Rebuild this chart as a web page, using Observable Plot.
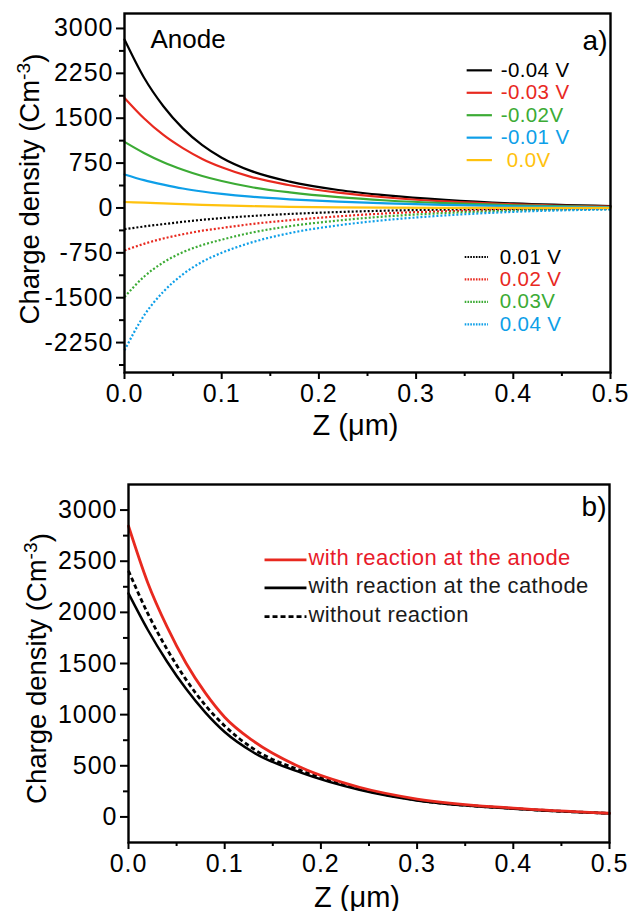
<!DOCTYPE html>
<html>
<head>
<meta charset="utf-8">
<script src="https://cdn.jsdelivr.net/npm/d3@7"></script>
<script src="https://cdn.jsdelivr.net/npm/@observablehq/plot@0.6"></script>
<style>
  html, body { margin: 0; padding: 0; background: #fff; }
  #chart { width: 637px; }
  #chart svg { display: block; }
</style>
</head>
<body>
<div id="chart"></div>
<script>
// ---------- Panel a) data ----------
const zA = [0, 0.02, 0.04, 0.06, 0.08, 0.10, 0.13, 0.17, 0.22, 0.27, 0.33, 0.40, 0.50];
const labelsSolid = ["-0.04 V", "-0.03 V", "-0.02V", "-0.01 V", "\u00a00.0V"];
const colorsSolid = ["#000000", "#e8291f", "#3cab35", "#0e9fe8", "#ffc20e"];
const vM004 = [2815, 2180, 1700, 1330, 1050, 840, 620, 440, 300, 210, 135, 75, 30];
const vM003 = [1840, 1500, 1220, 1000, 820, 680, 520, 380, 255, 175, 110, 62, 24];
const vM002 = [1105, 920, 765, 640, 535, 450, 350, 260, 180, 125, 80, 45, 14];
const vM001 = [560, 465, 390, 325, 275, 235, 188, 145, 105, 75, 50, 28, 8];
const vP000 = [100, 88, 76, 64, 52, 42, 30, 19, 10, 5, 2, 1, 0];
const labelsDotted = ["0.01 V", "0.02 V", "0.03V", "0.04 V"];
const colorsDotted = ["#000000", "#e8291f", "#3cab35", "#0e9fe8"];
const vP001 = [-355, -310, -270, -232, -198, -170, -135, -100, -68, -45, -27, -15, -5];
const vP002 = [-710, -600, -510, -440, -380, -335, -270, -205, -140, -90, -55, -30, -12];
const vP003 = [-1490, -1150, -910, -740, -620, -530, -415, -305, -210, -140, -85, -45, -18];
const vP004 = [-2380, -1800, -1400, -1110, -900, -750, -580, -420, -290, -200, -125, -65, -25];
const yTicksA = [-2250, -1500, -750, 0, 750, 1500, 2250, 3000];
const yMinorA = [-2625, -1875, -1125, -375, 375, 1125, 1875, 2625];

// ---------- Panel b) data ----------
const zB = [0, 0.02, 0.04, 0.06, 0.08, 0.10, 0.13, 0.18, 0.24, 0.30, 0.40, 0.50];
const labelsB = ["with reaction at the anode", "with reaction at the cathode", "without reaction"];
const colorsB = ["#e8291f", "#000000", "#000000"];
const textColorsB = ["#e81a2a", "#1a1a1a", "#1a1a1a"];
const vAnode = [2844, 2290, 1860, 1500, 1210, 975, 740, 480, 290, 175, 86, 36];
const vCathode = [2185, 1830, 1520, 1250, 1020, 830, 630, 430, 265, 160, 80, 34];
const vNoReaction = [2406, 1990, 1640, 1340, 1090, 890, 665, 450, 275, 165, 82, 35];
const yTicksB = [0, 500, 1000, 1500, 2000, 2500, 3000];
const yMinorB = [250, 750, 1250, 1750, 2250, 2750];

const xTicks = [0, 0.1, 0.2, 0.3, 0.4, 0.5];
const xMinor = [0.05, 0.15, 0.25, 0.35, 0.45];
const xTitle = "Z (\u03bcm)";
const yTitle = "Charge density (Cm-3)";

const FONT = "'Liberation Sans', Arial, Helvetica, sans-serif";

function toRows(z, arrays, labels, colors) {
  return arrays.flatMap((vals, i) => vals.map((v, j) => ({z: z[j], v, label: labels[i], color: colors[i]})));
}

const solidRows = toRows(zA, [vM004, vM003, vM002, vM001, vP000], labelsSolid, colorsSolid);
const dottedRows = toRows(zA, [vP001, vP002, vP003, vP004], labelsDotted, colorsDotted);
const solidLeg = labelsSolid.map((label, i) => ({label, color: colorsSolid[i], i}));
const dottedLeg = labelsDotted.map((label, i) => ({label, color: colorsDotted[i], i}));

function axes(yTicks, yMinor) {
  return [
    Plot.axisX({ticks: xTicks, tickFormat: d3.format(".1f"), tickSize: 7, tickPadding: 5, strokeWidth: 2, label: null, fontSize: 25}),
    Plot.axisX({ticks: xMinor, tickFormat: () => "", tickSize: 4, strokeWidth: 2, label: null}),
    Plot.axisY({ticks: yTicks, tickFormat: d => String(d), tickSize: 8, tickPadding: 3, strokeWidth: 2, label: null, fontSize: 25}),
    Plot.axisY({ticks: yMinor, tickFormat: () => "", tickSize: 5, strokeWidth: 2, label: null}),
    Plot.frame({stroke: "black", strokeWidth: 2.4})
  ];
}

const stepA = 375; // legend row step in data units (22.5 px)
const plotA = Plot.plot({
  width: 637, height: 455,
  marginLeft: 124, marginRight: 27, marginTop: 13, marginBottom: 83,
  x: {domain: [0, 0.5]},
  y: {domain: [-2750, 3250]},
  color: {type: "identity"},
  style: {fontFamily: FONT, fontSize: "25px", color: "black", background: "white", overflow: "visible"},
  marks: [
    Plot.line(dottedRows, {x: "z", y: "v", z: "label", stroke: "color", strokeWidth: 2.2, strokeDasharray: "2,2", strokeLinecap: "butt", curve: "monotone-x"}),
    Plot.line(solidRows, {x: "z", y: "v", z: "label", stroke: "color", strokeWidth: 2.2, curve: "monotone-x"}),
    ...axes(yTicksA, yMinorA),
    // legends
    Plot.link(solidLeg, {x1: 0.352, x2: 0.378, y1: d => 2300 - d.i * stepA, y2: d => 2300 - d.i * stepA, stroke: "color", strokeWidth: 2.2}),
    Plot.text(solidLeg, {x: 0.387, y: d => 2300 - d.i * stepA, text: "label", fill: "color", textAnchor: "start", lineAnchor: "middle", fontSize: 20.5}),
    Plot.link(dottedLeg, {x1: 0.350, x2: 0.374, y1: d => -820 - d.i * stepA, y2: d => -820 - d.i * stepA, stroke: "color", strokeWidth: 2.2, strokeDasharray: "1.6,1.2", strokeLinecap: "butt"}),
    Plot.text(dottedLeg, {x: 0.386, y: d => -820 - d.i * stepA, text: "label", fill: "color", textAnchor: "start", lineAnchor: "middle", fontSize: 20.5}),
    Plot.text(["Anode"], {frameAnchor: "top-left", dx: 26, dy: 16, fontSize: 26, lineAnchor: "top"}),
    Plot.text(["a)"], {frameAnchor: "top-right", dx: -3, dy: 28, fontSize: 28, textAnchor: "end", lineAnchor: "middle"}),
    Plot.text([xTitle], {frameAnchor: "bottom", dx: -12, dy: 53, fontSize: 29, lineAnchor: "middle", textAnchor: "middle"}),
    Plot.text([yTitle], {frameAnchor: "left", dx: -94, dy: -4, rotate: -90, fontSize: 27.5, lineAnchor: "middle", textAnchor: "middle"})
  ]
});

const bRows = toRows(zB, [vAnode, vCathode, vNoReaction], labelsB, colorsB);
const legB = labelsB.map((label, i) => ({label, color: colorsB[i], tcolor: textColorsB[i], i}));
const legBy = [2513, 2240, 1958];

const plotB = Plot.plot({
  width: 637, height: 456,
  marginLeft: 128, marginRight: 28, marginTop: 29, marginBottom: 69,
  x: {domain: [0, 0.5]},
  y: {domain: [-250, 3250]},
  color: {type: "identity"},
  style: {fontFamily: FONT, fontSize: "25px", color: "black", background: "white", overflow: "visible"},
  marks: [
    Plot.line(bRows.filter(d => d.label === labelsB[2]), {x: "z", y: "v", stroke: "color", strokeWidth: 2.8, strokeDasharray: "4.5,3", strokeLinecap: "butt", curve: "monotone-x"}),
    Plot.line(bRows.filter(d => d.label === labelsB[1]), {x: "z", y: "v", stroke: "color", strokeWidth: 2.5, curve: "monotone-x"}),
    Plot.line(bRows.filter(d => d.label === labelsB[0]), {x: "z", y: "v", stroke: "color", strokeWidth: 2.8, curve: "monotone-x"}),
    ...axes(yTicksB, yMinorB),
    Plot.link(legB.filter(d => d.i < 2), {x1: 0.1414, x2: 0.185, y1: d => legBy[d.i], y2: d => legBy[d.i], stroke: "color", strokeWidth: 2.8, strokeLinecap: "butt"}),
    Plot.link(legB.filter(d => d.i === 2), {x1: 0.1414, x2: 0.185, y1: d => legBy[d.i], y2: d => legBy[d.i], stroke: "color", strokeWidth: 2.6, strokeLinecap: "butt", strokeDasharray: "5,3"}),
    Plot.text(legB, {x: 0.187, y: d => legBy[d.i] + 15, text: "label", fill: "tcolor", textAnchor: "start", lineAnchor: "middle", fontSize: 22}),
    Plot.text(["b)"], {frameAnchor: "top-right", dx: -3, dy: 23, fontSize: 28, textAnchor: "end", lineAnchor: "middle"}),
    Plot.text([xTitle], {frameAnchor: "bottom", dx: -12, dy: 55, fontSize: 29, lineAnchor: "middle", textAnchor: "middle"}),
    Plot.text([yTitle], {frameAnchor: "left", dx: -91, dy: 5, rotate: -90, fontSize: 27.5, lineAnchor: "middle", textAnchor: "middle"})
  ]
});

for (const svg of [plotA, plotB]) {
  const s = d3.select(svg);
  // superscript for the y title
  s.selectAll("text").filter(function() { return this.textContent === yTitle; }).each(function() {
    const t = d3.select(this);
    t.text(null);
    t.append("tspan").text("Charge density (Cm");
    t.append("tspan").attr("dy", "-0.5em").attr("font-size", "0.7em").text("-3");
    t.append("tspan").attr("dy", "0.5em").text(")");
  });
  // slightly wider tick labels like the reference
  s.selectAll('g[aria-label="x-axis tick label"], g[aria-label="y-axis tick label"]').style("letter-spacing", "1px");
  s.selectAll("text").filter(function() { return labelsB.includes(this.textContent); }).style("letter-spacing", "0.4px");
  s.selectAll("text").filter(function() { return labelsSolid.includes(this.textContent) || labelsDotted.includes(this.textContent); }).style("letter-spacing", "0.4px");
  document.getElementById("chart").appendChild(svg);
}
</script>
</body>
</html>
